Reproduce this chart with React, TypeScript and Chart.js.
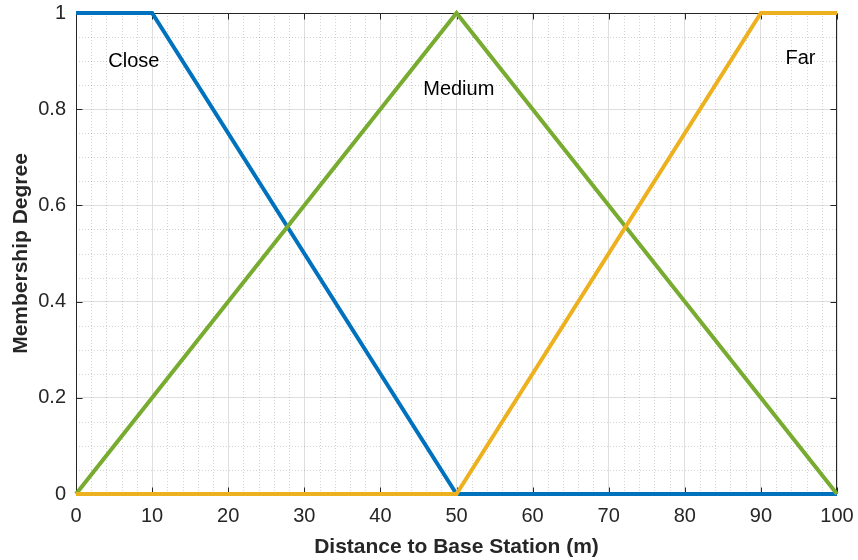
import React, { useEffect, useRef } from "react";
import { Chart, registerables } from "chart.js";

Chart.register(...registerables);

// Membership functions of the distance to the base station (fuzzy sets)
const closeX = [0, 10, 50, 100];
const closeY = [1, 1, 0, 0];
const mediumX = [0, 50, 100];
const mediumY = [0, 1, 0];
const farX = [0, 50, 90, 100];
const farY = [0, 0, 1, 1];

const xTicks = [0, 10, 20, 30, 40, 50, 60, 70, 80, 90, 100];
const yTicks = [0, 0.2, 0.4, 0.6, 0.8, 1];

// Set names and where they are written (data coordinates)
const setNames = ["Close", "Medium", "Far"];
const namePosX = [7.6, 50.3, 95.2];
const namePosY = [0.9, 0.84, 0.906];

const FONT = '"Liberation Sans", Arial, Helvetica, sans-serif';
const AXIS_COLOR = "#262626";

const toPoints = (xs: number[], ys: number[]) => xs.map((x, i) => ({ x, y: ys[i] }));

// Minor dotted grid, box outline and inward tick marks (MATLAB-like axes)
const axesDecor = {
  id: "axesDecor",
  beforeDatasetsDraw(chart: any) {
    const { ctx, chartArea } = chart;
    const { left, right, top, bottom } = chartArea;
    const xs = chart.scales.x;
    const ys = chart.scales.y;
    ctx.save();
    // minor grid
    ctx.strokeStyle = "rgba(38,38,38,0.2)";
    ctx.lineWidth = 1;
    ctx.setLineDash([1, 2]);
    for (let v = 2; v < 100; v += 2) {
      if (v % 10 === 0) continue;
      const px = Math.round(xs.getPixelForValue(v)) + 0.5;
      ctx.beginPath();
      ctx.moveTo(px, top);
      ctx.lineTo(px, bottom);
      ctx.stroke();
    }
    for (let k = 1; k < 20; k++) {
      if (k % 4 === 0) continue;
      const py = Math.round(ys.getPixelForValue(k * 0.05)) + 0.5;
      ctx.beginPath();
      ctx.moveTo(left, py);
      ctx.lineTo(right, py);
      ctx.stroke();
    }
    ctx.setLineDash([]);
    // box
    ctx.strokeStyle = AXIS_COLOR;
    ctx.lineWidth = 1;
    const l = Math.round(left) + 0.5;
    const r = Math.round(right) - 0.5;
    const t = Math.round(top) + 0.5;
    const b = Math.round(bottom) - 0.5;
    ctx.strokeRect(l, t, r - l, b - t);
    // inward ticks
    const tl = 6;
    ctx.beginPath();
    xTicks.forEach((v) => {
      const px = Math.round(xs.getPixelForValue(v)) + 0.5;
      ctx.moveTo(px, b);
      ctx.lineTo(px, b - tl);
      ctx.moveTo(px, t);
      ctx.lineTo(px, t + tl);
    });
    yTicks.forEach((v) => {
      const py = Math.round(ys.getPixelForValue(v)) + 0.5;
      ctx.moveTo(l, py);
      ctx.lineTo(l + tl, py);
      ctx.moveTo(r, py);
      ctx.lineTo(r - tl, py);
    });
    ctx.stroke();
    ctx.restore();
  },
  afterDatasetsDraw(chart: any) {
    const { ctx } = chart;
    const xs = chart.scales.x;
    const ys = chart.scales.y;
    ctx.save();
    ctx.fillStyle = "#000000";
    ctx.font = `20px ${FONT}`;
    ctx.textAlign = "center";
    ctx.textBaseline = "middle";
    setNames.forEach((name, i) => {
      ctx.fillText(name, xs.getPixelForValue(namePosX[i]), ys.getPixelForValue(namePosY[i]));
    });
    ctx.restore();
  },
};

export default function App() {
  const canvasRef = useRef<HTMLCanvasElement | null>(null);

  useEffect(() => {
    if (!canvasRef.current) return;
    const line = (label: string, xs: number[], ys: number[], color: string, order: number) => ({
      label,
      data: toPoints(xs, ys),
      borderColor: color,
      backgroundColor: color,
      borderWidth: 4,
      pointRadius: 0,
      tension: 0,
      fill: false,
      clip: 6,
      order,
    });
    const chart = new Chart(canvasRef.current, {
      type: "line",
      data: {
        datasets: [
          line("Close", closeX, closeY, "#0072BD", 3),
          line("Medium", mediumX, mediumY, "#77AC30", 2),
          line("Far", farX, farY, "#EDB120", 1),
        ],
      },
      options: {
        animation: false,
        responsive: false,
        maintainAspectRatio: false,
        parsing: false as any,
        layout: { padding: { top: 13, right: 21, left: 0, bottom: 0 } },
        plugins: { legend: { display: false }, tooltip: { enabled: false } },
        scales: {
          x: {
            type: "linear",
            min: 0,
            max: 100,
            afterFit: (s: any) => {
              s.height = 66;
              s.paddingLeft = 0;
              s.paddingRight = 0;
            },
            afterBuildTicks: (s: any) => {
              s.ticks = xTicks.map((v) => ({ value: v }));
            },
            ticks: {
              color: AXIS_COLOR,
              font: { family: FONT, size: 20 },
              padding: 10,
              maxRotation: 0,
              autoSkip: false,
            },
            grid: { color: "#dedede", lineWidth: 1, drawTicks: false },
            border: { display: false },
            title: {
              display: true,
              text: "Distance to Base Station (m)",
              color: AXIS_COLOR,
              font: { family: FONT, size: 21, weight: "bold" },
              padding: { top: 0, bottom: 0 },
            },
          },
          y: {
            type: "linear",
            min: 0,
            max: 1,
            afterFit: (s: any) => {
              s.width = 76;
              s.paddingTop = 0;
              s.paddingBottom = 0;
            },
            afterBuildTicks: (s: any) => {
              s.ticks = yTicks.map((v) => ({ value: v }));
            },
            ticks: {
              color: AXIS_COLOR,
              font: { family: FONT, size: 20 },
              padding: 10,
              autoSkip: false,
              callback: (v: any) => {
                const n = Number(v);
                return n === 0 || n === 1 ? String(n) : n.toFixed(1);
              },
            },
            grid: { color: "#dedede", lineWidth: 1, drawTicks: false },
            border: { display: false },
            title: {
              display: true,
              text: "Membership Degree",
              color: AXIS_COLOR,
              font: { family: FONT, size: 21, weight: "bold" },
              padding: { top: 9, bottom: 0 },
            },
          },
        },
      },
      plugins: [axesDecor],
    });
    return () => chart.destroy();
  }, []);

  return (
    <div style={{ position: "absolute", left: 0, top: 0, width: 858, height: 560, background: "#fff" }}>
      <canvas ref={canvasRef} width={858} height={560} style={{ display: "block" }} />
    </div>
  );
}
